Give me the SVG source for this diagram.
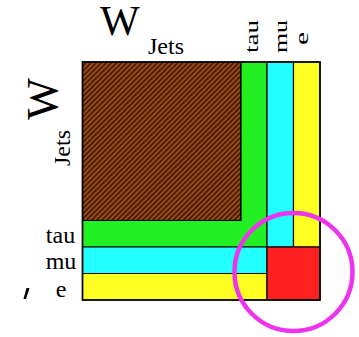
<svg xmlns="http://www.w3.org/2000/svg" width="359" height="337" viewBox="0 0 359 337">
  <style>
    text { font-family: 'Liberation Serif', 'Times New Roman', 'DejaVu Serif', serif; fill: #000; }
    .cell { stroke: #000; stroke-width: 1.2; }
  </style>
  <defs>
    <pattern id="hatch" width="3.6" height="3.6" patternUnits="userSpaceOnUse" patternTransform="rotate(45)">
      <rect width="3.6" height="3.6" fill="#9a4c14"/>
      <rect width="1.6" height="3.6" fill="#3e1604"/>
    </pattern>
  </defs>
  <rect width="359" height="337" fill="#fff"/>

  <g id="jets-block">
    <rect class="cell" x="82.5" y="62" width="158.5" height="158.5" fill="url(#hatch)"/>
  </g>
  <g id="tau-band">
    <path class="cell" d="M241,62 H267 V247 H82.5 V220.5 H241 Z" fill="#22f022"/>
  </g>
  <g id="mu-band">
    <path class="cell" d="M267,62 H293.5 V247 H267 Z" fill="#22ffff"/>
    <path class="cell" d="M82.5,247 H267 V273.5 H82.5 Z" fill="#22ffff"/>
  </g>
  <g id="e-band">
    <path class="cell" d="M293.5,62 H320 V247 H293.5 Z" fill="#ffff22"/>
    <path class="cell" d="M82.5,273.5 H267 V300 H82.5 Z" fill="#ffff22"/>
  </g>
  <g id="lepton-block">
    <rect class="cell" x="267" y="247" width="53" height="53" fill="#ff2020"/>
  </g>
  <rect x="82.5" y="62" width="237.5" height="238" fill="none" stroke="#000" stroke-width="1.6"/>

  <g id="highlight">
    <circle cx="293.5" cy="272" r="59" fill="none" stroke="#ee33ee" stroke-width="4.5"/>
  </g>

  <g id="labels">
    <text x="100" y="35" font-size="42" font-family="'Liberation Serif', serif">W</text>
    <text x="148" y="54" font-size="24" font-family="'Liberation Serif', serif">Jets</text>
    <text font-size="44" text-anchor="middle" font-family="'Liberation Serif', serif" transform="translate(56.5,99) rotate(-90)">W</text>
    <text font-size="24" text-anchor="middle" font-family="'Liberation Serif', serif" transform="translate(70,148) rotate(-90)">Jets</text>
    <text font-size="19" text-anchor="middle" textLength="33" lengthAdjust="spacingAndGlyphs" font-family="'Liberation Serif', serif" transform="translate(258,36.5) rotate(-90)">tau</text>
    <text font-size="19" text-anchor="middle" textLength="33" lengthAdjust="spacingAndGlyphs" font-family="'Liberation Serif', serif" transform="translate(286.5,36.5) rotate(-90)">mu</text>
    <text font-size="19" text-anchor="middle" textLength="13" lengthAdjust="spacingAndGlyphs" font-family="'Liberation Serif', serif" transform="translate(308,38.5) rotate(-90)">e</text>
    <text x="60.5" y="243" font-size="24" text-anchor="middle" font-family="'Liberation Serif', serif">tau</text>
    <text x="61" y="269" font-size="24" text-anchor="middle" font-family="'Liberation Serif', serif">mu</text>
    <text x="61" y="297" font-size="24" text-anchor="middle" font-family="'Liberation Serif', serif">e</text>
  </g>
  <path d="M26.5,288 L29.5,288 L26,299 L23.5,299 Z" fill="#000"/>
</svg>
